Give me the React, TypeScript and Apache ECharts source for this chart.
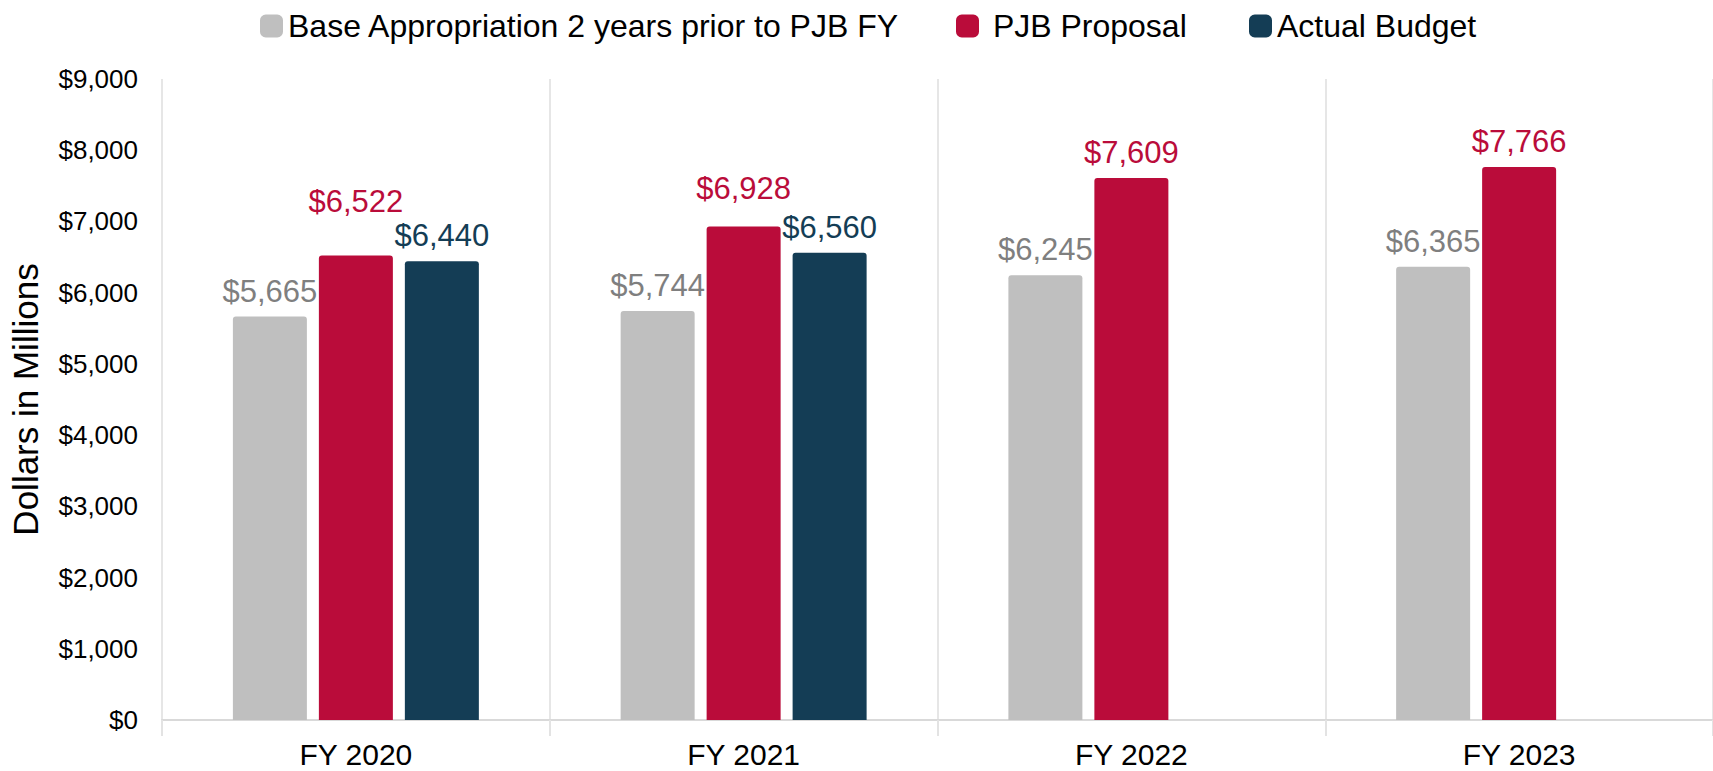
import React, { useEffect, useRef } from "react";
import * as echarts from "echarts";

const categories = ["FY 2020", "FY 2021", "FY 2022", "FY 2023"];
const baseAppropriation = [5665, 5744, 6245, 6365];
const pjbProposal = [6522, 6928, 7609, 7766];
const actualBudget: (number | null)[] = [6440, 6560, null, null];
const seriesNames = ["Base Appropriation 2 years prior to PJB FY", "PJB Proposal", "Actual Budget"];
const yTicks = { min: 0, max: 9000, interval: 1000 };

// styling only: extra upward lift (px) for proposal labels that would collide
const proposalLabelLift = [28, 13, 0, 0];

const GRAY = "#BFBFBF";
const GRAY_TEXT = "#7F7F7F";
const RED = "#BA0C3A";
const NAVY = "#143D55";
const FONT = "Liberation Sans, Arial, sans-serif";

const money = (v: number) => "$" + Math.round(v).toLocaleString("en-US");

export default function App() {
  const ref = useRef<HTMLDivElement>(null);
  useEffect(() => {
    document.body.style.margin = "0";
    if (!ref.current) return;
    const chart = echarts.init(ref.current, undefined, { renderer: "svg" });
    const labelBase = {
      show: true,
      position: "top" as const,
      distance: 10,
      fontSize: 31,
      fontFamily: FONT,
      formatter: (p: any) => money(p.value),
    };
    const barBase = {
      type: "bar" as const,
      barWidth: 74,
      barGap: "16.2%",
    };
    const legendCommon = {
      top: 5,
      itemWidth: 23,
      itemHeight: 23,
      icon: "roundRect",
      textStyle: { fontSize: 32, fontFamily: FONT, color: "#000" },
      selectedMode: false,
    };
    chart.setOption({
      animation: false,
      textStyle: { fontFamily: FONT },
      legend: [
        { ...legendCommon, left: 255, data: [seriesNames[0]] },
        { ...legendCommon, left: 951, data: [seriesNames[1]], formatter: (n: string) => " " + n },
        { ...legendCommon, left: 1244, data: [seriesNames[2]] },
      ],
      grid: { left: 161, top: 79, width: 1560, height: 641, containLabel: false },
      xAxis: {
        type: "category",
        data: categories,
        boundaryGap: true,
        axisLine: { show: true, lineStyle: { color: "#D9D9D9", width: 2 } },
        axisTick: { show: true, length: 16, lineStyle: { color: "#E3E3E3", width: 2 } },
        splitLine: { show: true, lineStyle: { color: "#E6E6E6", width: 2 } },
        axisLabel: { fontSize: 30, color: "#000", margin: 19, fontFamily: FONT },
      },
      yAxis: {
        type: "value",
        min: yTicks.min,
        max: yTicks.max,
        interval: yTicks.interval,
        name: "Dollars in Millions",
        nameLocation: "middle",
        nameGap: 119,
        nameTextStyle: { fontSize: 35, color: "#000", fontFamily: FONT },
        axisLine: { show: false },
        axisTick: { show: false },
        splitLine: { show: false },
        axisLabel: { fontSize: 26, color: "#000", margin: 24, formatter: money, fontFamily: FONT },
      },
      series: [
        {
          ...barBase,
          name: seriesNames[0],
          data: baseAppropriation,
          itemStyle: { color: GRAY, borderRadius: [3, 3, 0, 0] },
          label: { ...labelBase, color: GRAY_TEXT },
        },
        {
          ...barBase,
          name: seriesNames[1],
          data: pjbProposal.map((v, i) => ({
            value: v,
            label: { offset: [0, -proposalLabelLift[i]] },
          })),
          itemStyle: { color: RED, borderRadius: [3, 3, 0, 0] },
          label: { ...labelBase, color: RED },
        },
        {
          ...barBase,
          name: seriesNames[2],
          data: actualBudget,
          itemStyle: { color: NAVY, borderRadius: [3, 3, 0, 0] },
          label: { ...labelBase, color: NAVY },
        },
      ],
    });
    return () => chart.dispose();
  }, []);
  return (
    <div
      ref={ref}
      style={{ position: "absolute", left: 0, top: 0, width: 1713, height: 771, background: "#fff" }}
    />
  );
}
